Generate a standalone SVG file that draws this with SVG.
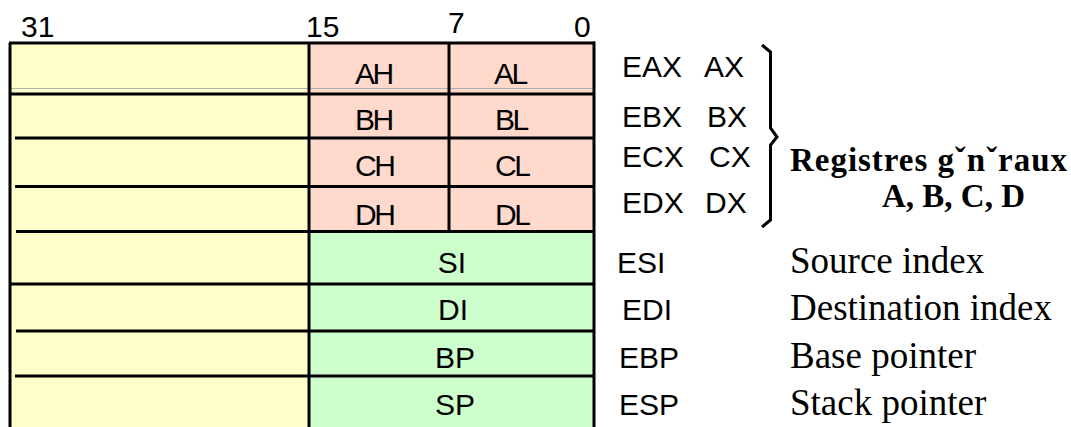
<svg xmlns="http://www.w3.org/2000/svg" width="1071" height="427" viewBox="0 0 1071 427">
<style>
.y{fill:#FFFFCC}
.p{fill:#FFD9CC}
.g{fill:#CCFFCC}
.a{font-family:"Liberation Sans",Arial,sans-serif;font-size:30px;fill:#000}
.hl{letter-spacing:-2.5px}
.m{text-anchor:middle}
.tb{font-family:"Liberation Serif","Times New Roman",serif;font-size:33px;font-weight:bold;fill:#000}
.t{font-family:"Liberation Serif","Times New Roman",serif;font-size:37px;fill:#000}
.ln{stroke:#000;stroke-width:3;fill:none}
</style>
<rect width="1071" height="427" fill="#fff"/>
<g id="bits">
<text class="a" x="21" y="37">31</text>
<text class="a" x="306" y="37">15</text>
<text class="a" x="448" y="33">7</text>
<text class="a" x="574" y="37">0</text>
</g>
<g id="reg-eax">
<rect class="y" x="10" y="43" width="299" height="51"/>
<rect class="p" x="309" y="43" width="285" height="51"/>
<text class="a hl" x="355" y="84">AH</text>
<text class="a hl" x="494" y="84">AL</text>
<text class="a" x="622" y="77">EAX</text>
<text class="a" x="704" y="77">AX</text>
</g>
<g id="reg-ebx">
<rect class="y" x="10" y="94" width="299" height="44"/>
<rect class="p" x="309" y="94" width="285" height="44"/>
<text class="a hl" x="355" y="130">BH</text>
<text class="a hl" x="495" y="130">BL</text>
<text class="a" x="622" y="127">EBX</text>
<text class="a" x="707" y="127">BX</text>
</g>
<g id="reg-ecx">
<rect class="y" x="10" y="138" width="299" height="48"/>
<rect class="p" x="309" y="138" width="285" height="48"/>
<text class="a hl" x="355" y="176">CH</text>
<text class="a hl" x="495" y="176">CL</text>
<text class="a" x="622" y="167">ECX</text>
<text class="a" x="709" y="167">CX</text>
</g>
<g id="reg-edx">
<rect class="y" x="10" y="186" width="299" height="45"/>
<rect class="p" x="309" y="186" width="285" height="45"/>
<text class="a hl" x="355" y="225">DH</text>
<text class="a hl" x="495" y="225">DL</text>
<text class="a" x="622" y="213">EDX</text>
<text class="a" x="705" y="213">DX</text>
</g>
<g id="reg-esi">
<rect class="y" x="10" y="231" width="299" height="53"/>
<rect class="g" x="309" y="231" width="285" height="53"/>
<text class="a m" x="452" y="273">SI</text>
<text class="a" x="617" y="273">ESI</text>
<text class="t" x="790" y="273">Source index</text>
</g>
<g id="reg-edi">
<rect class="y" x="10" y="284" width="299" height="47"/>
<rect class="g" x="309" y="284" width="285" height="47"/>
<text class="a m" x="453" y="320">DI</text>
<text class="a" x="622" y="320">EDI</text>
<text class="t" x="790" y="320">Destination index</text>
</g>
<g id="reg-ebp">
<rect class="y" x="10" y="331" width="299" height="45"/>
<rect class="g" x="309" y="331" width="285" height="45"/>
<text class="a m" x="455" y="368">BP</text>
<text class="a" x="619" y="368">EBP</text>
<text class="t" x="790" y="368">Base pointer</text>
</g>
<g id="reg-esp">
<rect class="y" x="10" y="376" width="299" height="51"/>
<rect class="g" x="309" y="376" width="285" height="51"/>
<text class="a m" x="455" y="415">SP</text>
<text class="a" x="619" y="415">ESP</text>
<text class="t" x="790" y="415">Stack pointer</text>
</g>
<g id="general-label">
<text class="tb" x="790" y="171" textLength="277" lengthAdjust="spacing">Registres gˇnˇraux</text>
<text class="tb" x="882" y="207">A, B, C, D</text>
</g>
<g id="connectors">
<line x1="10" y1="88.5" x2="594" y2="88.5" stroke="#b0b0b0" stroke-width="1"/>
<line class="ln" x1="9" y1="43" x2="595" y2="43"/>
<line class="ln" x1="11" y1="94" x2="594" y2="94"/>
<line class="ln" x1="15" y1="138" x2="594" y2="138"/>
<line class="ln" x1="15" y1="186.5" x2="594" y2="186.5"/>
<line class="ln" x1="16" y1="231.5" x2="594" y2="231.5"/>
<line class="ln" x1="11" y1="284" x2="594" y2="284"/>
<line class="ln" x1="16" y1="331" x2="594" y2="331"/>
<line class="ln" x1="15" y1="376" x2="594" y2="376"/>
<line class="ln" x1="10" y1="43" x2="10" y2="427"/>
<line class="ln" x1="309" y1="43" x2="309" y2="427"/>
<line class="ln" x1="449" y1="43" x2="449" y2="231"/>
<line class="ln" x1="594" y1="41.5" x2="594" y2="427"/>
<path class="ln" d="M762 45 L770.5 52 L770.5 128 L777 137 L770.5 145 L770.5 220 L762 227"/>
</g>
</svg>
